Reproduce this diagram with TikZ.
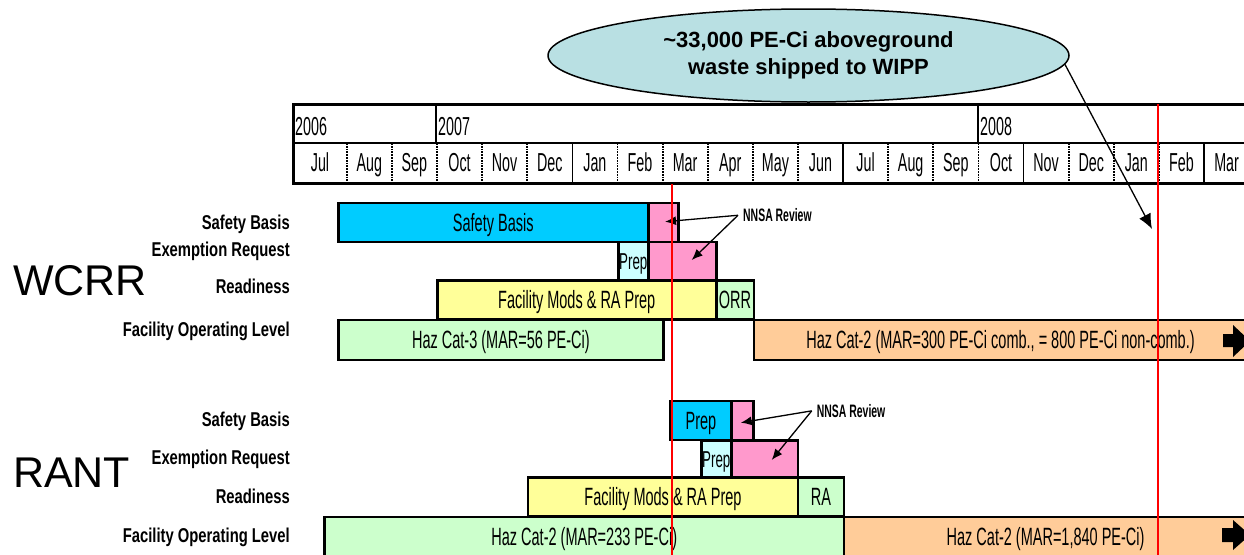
\documentclass[tikz,border=0pt]{standalone}
\usepackage{fontspec}
\setmainfont{Liberation Sans}
\newfontfamily\narrowfont[FakeStretch=0.58]{Liberation Sans}
\newfontfamily\monthfont[FakeStretch=0.55]{Liberation Sans}
\newfontfamily\labelfont[FakeStretch=0.74]{Liberation Sans}
\usepackage{tikz}
\usetikzlibrary{shapes.geometric, arrows.meta}
\definecolor{sbblue}{HTML}{00CCFF}
\definecolor{revpink}{HTML}{FF99CC}
\definecolor{prepcyan}{HTML}{CCFFFF}
\definecolor{modyellow}{HTML}{FFFF99}
\definecolor{okgreen}{HTML}{CCFFCC}
\definecolor{catorange}{HTML}{FFCC99}
\definecolor{bubblecyan}{HTML}{B9E0E3}
\tikzstyle{bar} = [rectangle, draw=black, line width=2.5pt, inner sep=0pt, anchor=west, minimum height=39pt, text height=17.9pt, text depth=0pt, font=\narrowfont\fontsize{25}{25}\selectfont]
\tikzstyle{smallbar} = [bar, text height=16.5pt, font=\narrowfont\fontsize{23}{23}\selectfont]
\tikzstyle{rowlabel} = [anchor=base east, inner sep=0pt, font=\labelfont\bfseries\fontsize{20}{20}\selectfont]
\tikzstyle{facility} = [anchor=west, inner sep=0pt, font=\fontsize{43}{43}\selectfont]
\tikzstyle{month} = [anchor=base, inner sep=0pt, font=\monthfont\fontsize{26}{26}\selectfont]
\tikzstyle{year} = [anchor=base west, inner sep=0pt, font=\monthfont\fontsize{26}{26}\selectfont]
\tikzstyle{review} = [anchor=base west, inner xsep=5pt, inner ysep=0pt, font=\narrowfont\bfseries\fontsize{18}{18}\selectfont]
\tikzstyle{bubble} = [ellipse, draw=black, line width=1.5pt, fill=bubblecyan, minimum width=521pt, minimum height=93pt, inner sep=0pt, align=center, font=\bfseries\fontsize{22}{26.5}\selectfont]
\tikzstyle{arrow} = [line width=1.3pt, -{Latex[length=11pt, width=9pt]}]
\tikzstyle{bigarrow} = [line width=1.3pt, -{Latex[length=15pt, width=13pt]}]
\tikzstyle{frame} = [line width=3pt]
\tikzstyle{cellsep} = [line width=1.2pt]
\tikzstyle{dotsep} = [line width=1.8pt, densely dotted]
\tikzstyle{marker} = [red, line width=2pt]

\begin{document}
\begin{tikzpicture}[x=1pt, y=-1pt]
\useasboundingbox (0,0) rectangle (1244,554);
\fill[white] (0,0) rectangle (1244,554);
\clip (0,0) rectangle (1244,554);
  \node (wipp) [bubble] at (808.5,55.5) {\textasciitilde 33,000 PE-Ci aboveground\\waste shipped to WIPP};
  % time line
\draw[frame] (1250,104) -- (293,104) -- (293,183.5) -- (1250,183.5);
\draw[cellsep] (293,143) -- (1250,143);
\draw[cellsep] (436,104) -- (436,143) (978,104) -- (978,143);
\draw[cellsep] (572.3,143) -- (572.3,183.5) (843,143) -- (843,183.5) (1023.5,143) -- (1023.5,183.5) (1204,143) -- (1204,183.5);
\draw[dotsep] (346.7,143) -- (346.7,183.5) (391.8,143) -- (391.8,183.5) (437,143) -- (437,183.5) (482.1,143) -- (482.1,183.5)
  (527.2,143) -- (527.2,183.5) (617.4,143) -- (617.4,183.5) (662.6,143) -- (662.6,183.5) (707.7,143) -- (707.7,183.5)
  (752.8,143) -- (752.8,183.5) (797.9,143) -- (797.9,183.5) (888.2,143) -- (888.2,183.5) (933.3,143) -- (933.3,183.5)
  (978.4,143) -- (978.4,183.5) (1068.6,143) -- (1068.6,183.5) (1113.8,143) -- (1113.8,183.5) (1158.9,143) -- (1158.9,183.5);
  \node (y2006) [year] at (295,135) {2006};
  \node (y2007) [year] at (438,135) {2007};
  \node (y2008) [year] at (980,135) {2008};
  \node (m1) [month] at (320,171) {Jul};
  \node (m2) [month] at (369.3,171) {Aug};
  \node (m3) [month] at (414.4,171) {Sep};
  \node (m4) [month] at (459.5,171) {Oct};
  \node (m5) [month] at (504.6,171) {Nov};
  \node (m6) [month] at (549.8,171) {Dec};
  \node (m7) [month] at (594.9,171) {Jan};
  \node (m8) [month] at (640,171) {Feb};
  \node (m9) [month] at (685.1,171) {Mar};
  \node (m10) [month] at (730.2,171) {Apr};
  \node (m11) [month] at (775.4,171) {May};
  \node (m12) [month] at (820.5,171) {Jun};
  \node (m13) [month] at (865.6,171) {Jul};
  \node (m14) [month] at (910.7,171) {Aug};
  \node (m15) [month] at (955.8,171) {Sep};
  \node (m16) [month] at (1001,171) {Oct};
  \node (m17) [month] at (1046.1,171) {Nov};
  \node (m18) [month] at (1091.2,171) {Dec};
  \node (m19) [month] at (1136.3,171) {Jan};
  \node (m20) [month] at (1181.4,171) {Feb};
  \node (m21) [month] at (1226.6,171) {Mar};
  % WCRR
  \node (wcrr) [facility] at (13,281) {WCRR};
  \node (wsblab) [rowlabel] at (290,229.5) {Safety Basis};
  \node (werlab) [rowlabel] at (290,256.8) {Exemption Request};
  \node (wrdlab) [rowlabel] at (290,293.5) {Readiness};
  \node (wfollab) [rowlabel] at (290,336.8) {Facility Operating Level};
  \node (wsb) [bar, fill=sbblue, minimum width=310pt] at (337,222.5) {Safety Basis};
  \node (wsbrev) [bar, fill=revpink, minimum width=30pt] at (647,222.5) {};
  \node (werprep) [smallbar, fill=prepcyan, minimum width=30pt, minimum height=38pt] at (617,261) {Prep};
  \node (werrev) [bar, fill=revpink, minimum width=68pt, minimum height=38pt] at (647,261) {};
  \node (wmods) [bar, fill=modyellow, minimum width=279pt] at (436,300) {Facility Mods \& RA Prep};
  \node (worr) [bar, fill=okgreen, minimum width=37.5pt] at (715,300) {ORR};
  \node (wcat3) [bar, fill=okgreen, minimum width=325.3pt, minimum height=40pt] at (337,340) {Haz Cat-3 (MAR=56 PE-Ci)};
  \node (wcat2) [bar, fill=catorange, minimum width=493.5pt, minimum height=40pt] at (752.5,340) {Haz Cat-2 (MAR=300 PE-Ci comb., = 800 PE-Ci non-comb.)};
\fill (1223,334) -- (1233,334) -- (1233,325) -- (1250,341) -- (1233,357) -- (1233,347) -- (1223,347) -- cycle;
  \node (wnnsa) [review] at (738,221.7) {NNSA Review};
  \coordinate (wrev1) at (665,221.7);
  \coordinate (wrev2) at (691.7,260);
  \draw[arrow] (wnnsa.west) -- (wrev1);
  \draw[arrow] (wnnsa.west) -- (wrev2);
  % RANT
  \node (rant) [facility] at (13,473) {RANT};
  \node (rsblab) [rowlabel] at (290,426.8) {Safety Basis};
  \node (rerlab) [rowlabel] at (290,464) {Exemption Request};
  \node (rrdlab) [rowlabel] at (290,503) {Readiness};
  \node (rfollab) [rowlabel] at (290,542) {Facility Operating Level};
  \node (rsbprep) [bar, fill=sbblue, minimum width=60.7pt] at (669.3,420.5) {Prep};
  \node (rsbrev) [bar, fill=revpink, minimum width=22.3pt] at (730,420.5) {};
  \node (rerprep) [smallbar, fill=prepcyan, minimum width=30pt, minimum height=37.5pt] at (700,459) {Prep};
  \node (rerrev) [bar, fill=revpink, minimum width=66.7pt, minimum height=37.5pt] at (730,459) {};
  \node (rmods) [bar, fill=modyellow, minimum width=270pt] at (526.7,497) {Facility Mods \& RA Prep};
  \node (rra) [bar, fill=okgreen, minimum width=46pt] at (796.7,497) {RA};
  \node (rcat2a) [bar, fill=okgreen, minimum width=519.4pt, minimum height=40pt] at (323.3,537) {Haz Cat-2 (MAR=233 PE-Ci)};
  \node (rcat2b) [bar, fill=catorange, minimum width=403.3pt, minimum height=40pt] at (842.7,537) {Haz Cat-2 (MAR=1,840 PE-Ci)};
\fill (1222,528) -- (1233,528) -- (1233,520) -- (1250,535) -- (1233,550) -- (1233,542) -- (1222,542) -- cycle;
  \node (rnnsa) [review] at (811.7,417.3) {NNSA Review};
  \coordinate (rrev1) at (740.7,422.7);
  \coordinate (rrev2) at (771.7,460);
  \draw[arrow] (rnnsa.west) -- (rrev1);
  \draw[arrow] (rnnsa.west) -- (rrev2);
  % milestones
  \coordinate (mark1top) at (671.5,184);
  \coordinate (mark1bot) at (671.5,560);
  \coordinate (mark2top) at (1157.5,104);
  \coordinate (mark2bot) at (1157.5,560);
\draw[marker] (mark1top) -- (mark1bot);
\draw[marker] (mark2top) -- (mark2bot);
  \coordinate (shipend) at (1152,229);
  \draw[bigarrow] (wipp.-2) -- (shipend);
\end{tikzpicture}
\end{document}
